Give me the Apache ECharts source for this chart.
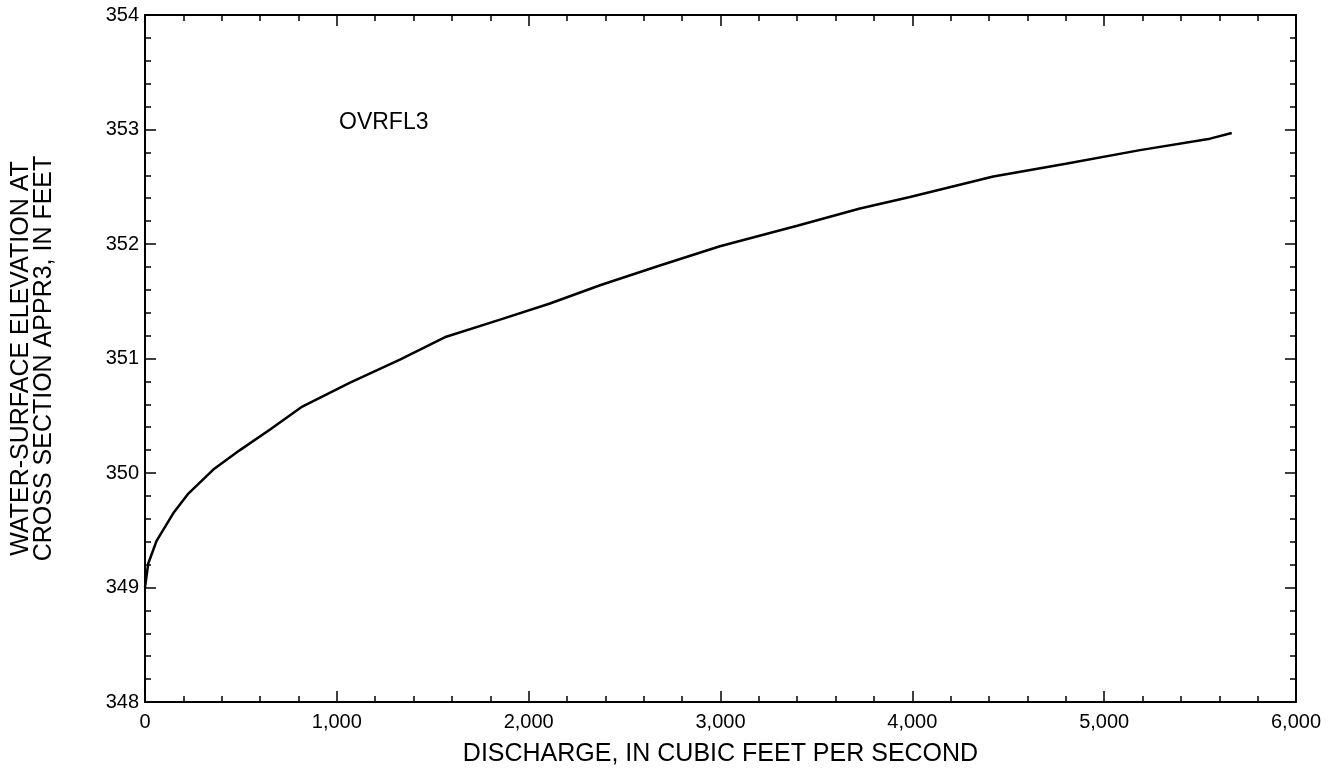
<!DOCTYPE html>
<html>
<head>
<meta charset="utf-8">
<title>OVRFL3 rating curve</title>
<script src="https://cdn.jsdelivr.net/npm/echarts@6/dist/echarts.min.js"></script>
<style>
  html, body { margin: 0; padding: 0; background: #ffffff; }
  #chart { width: 1339px; height: 779px; }
</style>
</head>
<body>
<div id="chart"></div>
<script>
// Discharge (cubic feet per second) and water-surface elevation (feet)
const discharge = [0, 17, 61, 148, 226, 356, 495, 652, 820, 1069, 1329, 1570, 1851, 2111, 2372, 2680, 2997, 3400, 3727, 3988, 4422, 4800, 5187, 5552, 5665];
const elevation = [349.0, 349.21, 349.41, 349.65, 349.82, 350.03, 350.2, 350.38, 350.58, 350.79, 350.99, 351.19, 351.34, 351.48, 351.64, 351.81, 351.98, 352.16, 352.31, 352.41, 352.59, 352.7, 352.82, 352.92, 352.97];

const curveName = 'OVRFL3';
const xTitle = 'DISCHARGE, IN CUBIC FEET PER SECOND';
const yTitle = 'WATER-SURFACE ELEVATION AT\nCROSS SECTION APPR3, IN FEET';

const xRange = { min: 0, max: 6000, interval: 1000 };
const yRange = { min: 348, max: 354, interval: 1 };

const FONT = '"Liberation Sans", Arial, Helvetica, sans-serif';
const INK = '#000000';

const points = discharge.map((q, i) => [q, elevation[i]]);

// Boxed frame: every side carries inward ticks with five minor divisions
function frameAxis(extra) {
  return Object.assign({
    axisLine: { show: true, onZero: false, lineStyle: { color: INK, width: 2 } },
    axisTick: { show: true, inside: true, length: 11, lineStyle: { color: INK, width: 1.5 } },
    minorTick: { show: true, splitNumber: 5, length: 6, lineStyle: { color: INK, width: 1.5 } },
    splitLine: { show: false },
    minorSplitLine: { show: false }
  }, extra);
}

const chart = echarts.init(document.getElementById('chart'), null, { renderer: 'canvas' });

chart.setOption({
  backgroundColor: '#ffffff',
  animation: false,
  grid: { left: 145, right: 43, top: 15, bottom: 77, containLabel: false },
  xAxis: [
    frameAxis({
      type: 'value', position: 'bottom',
      min: xRange.min, max: xRange.max, interval: xRange.interval,
      name: xTitle, nameLocation: 'middle', nameGap: 40,
      nameTextStyle: { color: INK, fontFamily: FONT, fontSize: 25 },
      axisLabel: {
        color: INK, fontFamily: FONT, fontSize: 20, margin: 10,
        formatter: v => v.toLocaleString('en-US')
      }
    }),
    frameAxis({
      type: 'value', position: 'top',
      min: xRange.min, max: xRange.max, interval: xRange.interval,
      axisLabel: { show: false }
    })
  ],
  yAxis: [
    frameAxis({
      type: 'value', position: 'left',
      min: yRange.min, max: yRange.max, interval: yRange.interval,
      name: yTitle, nameLocation: 'middle', nameGap: 89, nameRotate: 90,
      nameTextStyle: { color: INK, fontFamily: FONT, fontSize: 25, lineHeight: 23, align: 'center' },
      axisLabel: { color: INK, fontFamily: FONT, fontSize: 20, margin: 6 }
    }),
    frameAxis({
      type: 'value', position: 'right',
      min: yRange.min, max: yRange.max, interval: yRange.interval,
      axisLabel: { show: false }
    })
  ],
  series: [
    {
      name: curveName,
      type: 'line',
      data: points,
      xAxisIndex: 0,
      yAxisIndex: 0,
      showSymbol: false,
      smooth: false,
      lineStyle: { color: INK, width: 2.5 }
    }
  ],
  graphic: [
    {
      type: 'text',
      left: 339,
      top: 111,
      style: { text: curveName, fill: INK, font: '23px ' + FONT }
    }
  ]
});
</script>
</body>
</html>
